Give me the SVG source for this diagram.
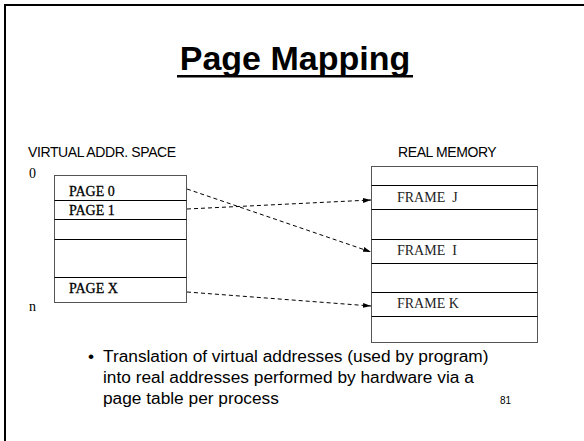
<svg xmlns="http://www.w3.org/2000/svg" width="584" height="441" viewBox="0 0 584 441">
  <style>
    .lbl { font-family: "Liberation Sans", Arial, sans-serif; font-size: 14px; fill: #000; letter-spacing: -0.4px; }
    .pg { font-family: "Liberation Serif", "Times New Roman", serif; font-size: 14px; fill: #000; stroke: #000; stroke-width: 0.3px; }
    .fr { font-family: "Liberation Serif", "Times New Roman", serif; font-size: 14px; fill: #222; white-space: pre; }
    .box { fill: #fff; stroke: #555; stroke-width: 1; }
    .row { stroke: #000; stroke-width: 1; }
    .link { fill: none; stroke: #000; stroke-width: 1; stroke-dasharray: 4 3; marker-end: url(#arrow); }
    .body { font-family: "Liberation Sans", Arial, sans-serif; font-size: 17.3px; fill: #000; }
  </style>
  <defs>
    <marker id="arrow" viewBox="0 0 8 6" refX="8" refY="3" markerWidth="8" markerHeight="6" markerUnits="userSpaceOnUse" orient="auto">
      <path d="M0,0.5 L8,3 L0,5.5 z" fill="#000"/>
    </marker>
  </defs>
  <rect width="584" height="441" fill="#fff"/>
  <!-- slide frame -->
  <rect x="5" y="5" width="600" height="460" fill="none" stroke="#000" stroke-width="2"/>

  <!-- title -->
  <g id="title">
    <text x="295" y="70" text-anchor="middle" font-family="Liberation Sans, Arial, sans-serif" font-size="34" font-weight="bold">Page Mapping</text>
    <rect x="177" y="75" width="236" height="2.5" fill="#000"/>
  </g>

  <!-- virtual address space -->
  <g id="virtual-space">
    <text class="lbl" x="28" y="157">VIRTUAL ADDR. SPACE</text>
    <text class="pg" x="29" y="178" style="stroke:none">0</text>
    <text class="pg" x="29" y="311" style="stroke:none">n</text>
    <rect class="box" x="54.5" y="175.5" width="132" height="127"/>
    <line class="row" x1="54.5" y1="200.5" x2="186.5" y2="200.5"/>
    <line class="row" x1="54.5" y1="219.5" x2="186.5" y2="219.5"/>
    <line class="row" x1="54.5" y1="239.5" x2="186.5" y2="239.5"/>
    <line class="row" x1="54.5" y1="277.5" x2="186.5" y2="277.5"/>
    <text class="pg" x="69" y="196">PAGE 0</text>
    <text class="pg" x="69" y="215">PAGE 1</text>
    <text class="pg" x="69" y="293">PAGE X</text>
  </g>

  <!-- real memory -->
  <g id="real-memory">
    <text class="lbl" x="398" y="157">REAL MEMORY</text>
    <rect class="box" x="371.5" y="166.5" width="166" height="176"/>
    <line class="row" x1="371.5" y1="185.5" x2="537.5" y2="185.5"/>
    <line class="row" x1="371.5" y1="209.5" x2="537.5" y2="209.5"/>
    <line class="row" x1="371.5" y1="239.5" x2="537.5" y2="239.5"/>
    <line class="row" x1="371.5" y1="263.5" x2="537.5" y2="263.5"/>
    <line class="row" x1="371.5" y1="292.5" x2="537.5" y2="292.5"/>
    <line class="row" x1="371.5" y1="316.5" x2="537.5" y2="316.5"/>
    <text class="fr" x="397" y="202">FRAME  J</text>
    <text class="fr" x="397" y="255">FRAME  I</text>
    <text class="fr" x="397" y="308">FRAME K</text>
  </g>

  <!-- page-to-frame mappings -->
  <g id="connectors">
    <path class="link" d="M187,189 L371,252"/>
    <path class="link" d="M187,209 L371,200"/>
    <path class="link" d="M187,292 L371,306"/>
  </g>

  <!-- caption -->
  <g id="caption">
    <text class="body" x="88" y="362">•</text>
    <text class="body" x="103" y="362">Translation of virtual addresses (used by program)</text>
    <text class="body" x="103" y="383">into real addresses performed by hardware via a</text>
    <text class="body" x="103" y="404">page table per process</text>
    <text x="500" y="404" font-family="Liberation Sans, Arial, sans-serif" font-size="10">81</text>
  </g>
</svg>
